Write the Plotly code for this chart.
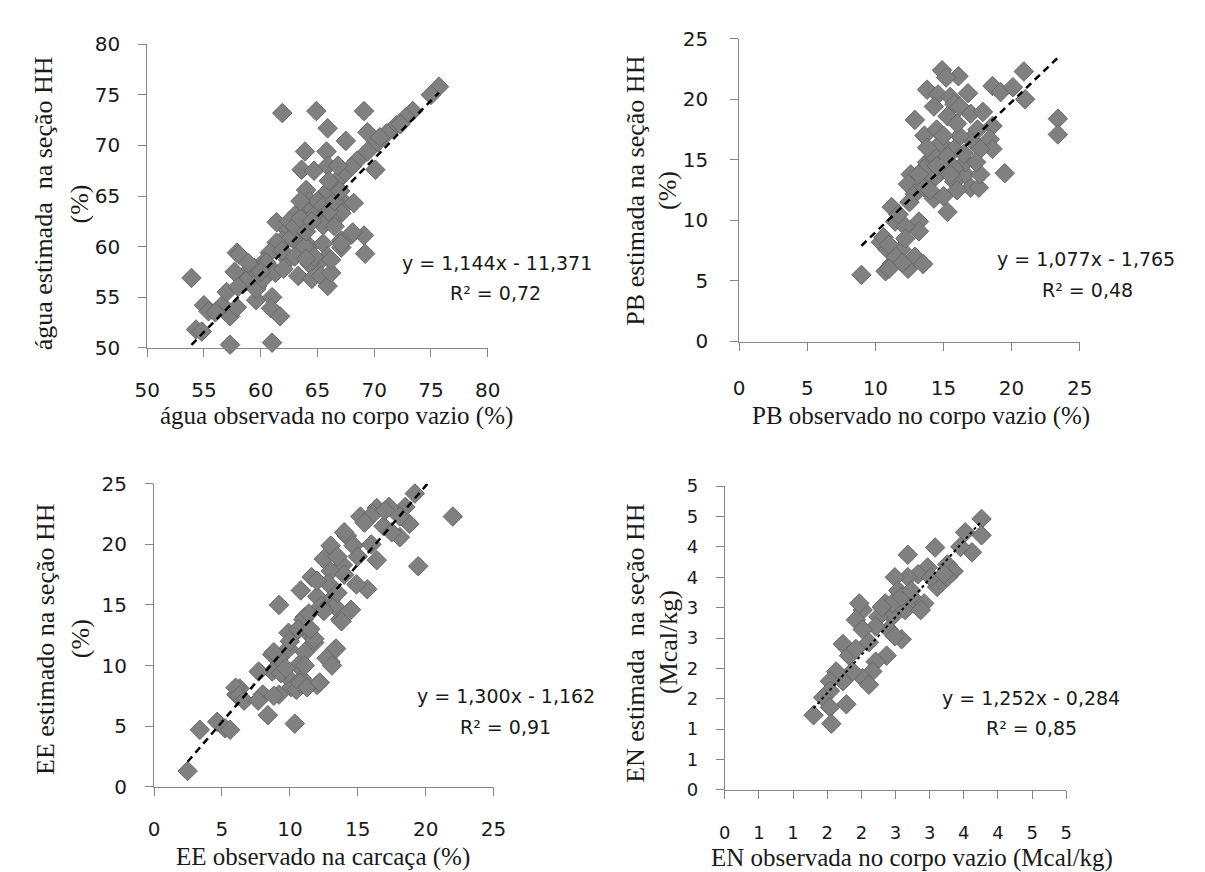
import plotly.graph_objects as go

# ---------------- data ----------------
agua_obs = [61.9, 64.9, 69.1, 65.9, 67.5, 69.4, 63.9, 65.8, 63.6, 64.7, 65.9, 70.1, 75.7, 75.0, 73.4,
            72.8, 71.95, 71.1, 70.3, 69.4, 68.5, 68.0, 67.2, 66.6, 65.9, 64.0, 64.3, 63.8, 63.2, 64.9,
            67.5, 68.2, 67.1, 66.2, 65.5, 61.4, 62.4, 61.9, 63.0, 64.3, 65.5, 67.1, 68.0, 69.1, 69.2,
            67.1, 65.9, 65.0, 64.3, 61.4, 60.8, 60.3, 59.4, 58.6, 57.9, 57.7, 59.7, 53.9,
            55.0, 55.4, 56.6, 57.3, 57.9, 57.3, 54.3, 54.8, 61.0, 59.6, 61.0, 60.9, 61.7, 58.7, 58.1,
            58.9, 59.6, 60.2, 60.5, 61.3, 62.4, 61.9, 63.3, 64.5, 65.3, 65.9, 66.2, 66.2, 64.7, 63.9,
            62.7, 67.1, 68.1, 62.5, 63.0, 63.5, 64.0, 64.5, 65.0, 65.5, 66.0, 66.5, 66.0, 67.0, 66.8,
            70.5, 72.3, 57.0, 56.0, 60.0, 62.0, 63.0, 64.0, 63.5, 66.5, 58.0]
agua_est = [73.2, 73.4, 73.4, 71.7, 70.45, 71.3, 69.4, 69.4, 67.6, 67.5, 68.0, 67.6, 75.8, 75.0, 73.4,
            72.8, 72.0, 71.2, 70.3, 69.4, 68.5, 67.9, 67.0, 66.4, 65.5, 65.6, 64.5, 63.9, 63.3, 63.3,
            64.2, 64.3, 63.3, 62.7, 62.1, 62.4, 61.6, 60.6, 60.6, 60.0, 60.3, 60.6, 61.2, 61.1, 59.3,
            59.9, 59.0, 58.3, 58.3, 60.4, 59.4, 58.5, 57.9, 57.2, 59.4, 57.5, 56.1, 56.9,
            54.2, 53.6, 54.2, 53.1, 54.0, 50.3, 51.8, 51.6, 50.5, 54.7, 55.0, 53.9, 53.1, 56.6, 59.2,
            58.4, 55.8, 56.8, 58.4, 57.4, 58.7, 59.6, 57.1, 56.8, 57.1, 56.1, 57.4, 58.7, 59.0, 60.0,
            60.9, 60.3, 61.4, 62.5, 62.0, 62.8, 61.5, 62.5, 64.5, 64.0, 63.5, 64.5, 66.5, 65.5, 68.0,
            70.8, 72.1, 55.5, 53.5, 57.5, 57.8, 59.0, 58.8, 64.5, 62.0, 56.0]

pb_obs = [8.98, 10.4, 10.75, 11.2, 11.2, 11.45, 11.9, 12.4, 12.9, 13.5, 13.2, 13.2, 12.2, 11.7, 12.6,
          12.4, 12.9, 13.6, 14.3, 15.3, 13.8, 14.8, 15.8, 16.6, 17.0, 17.6, 17.7, 19.5, 13.6, 12.9,
          13.8, 14.9, 16.1, 14.6, 15.5, 15.8, 16.2, 14.3, 15.3, 17.0, 17.9, 18.6, 18.4, 18.6, 17.7,
          17.0, 16.2, 15.8, 14.8, 14.3, 15.3, 16.6, 17.4, 15.8, 14.3, 13.6, 13.2, 18.6, 19.2, 20.1,
          20.9, 21.0, 23.4, 23.4, 12.2, 10.9, 10.6, 11.0, 11.5, 12.0, 11.0, 12.5, 14.0, 15.0, 16.0,
          14.5, 15.0, 16.0, 16.5, 17.5, 13.8, 14.5, 15.5, 16.8, 15.2]
pb_est = [5.5, 8.2, 5.8, 6.4, 11.1, 9.9, 7.6, 6.0, 7.0, 6.4, 9.9, 9.1, 9.5, 10.5, 13.8,
          13.0, 12.2, 12.7, 11.8, 10.7, 14.8, 14.0, 13.2, 13.8, 12.7, 12.7, 13.8, 13.9, 17.0, 18.3,
          20.8, 22.4, 21.9, 20.4, 20.2, 19.6, 19.4, 19.4, 18.6, 18.8, 18.96, 17.8, 16.7, 15.9, 15.9,
          16.7, 16.96, 15.9, 16.4, 15.3, 15.3, 14.8, 14.8, 14.3, 13.5, 14.3, 13.8, 21.1, 20.6, 21.0,
          22.3, 20.0, 18.4, 17.1, 8.5, 7.6, 8.6, 8.0, 7.0, 6.5, 6.0, 11.5, 12.5, 12.0, 12.5,
          17.5, 17.0, 18.0, 15.5, 17.5, 16.0, 14.5, 13.8, 20.5, 21.8]

ee_obs = [19.2, 22.0, 19.45, 18.1, 18.8, 18.5, 17.3, 16.4, 15.2, 16.1, 16.9, 18.1, 16.4, 15.7, 14.9,
          14.2, 13.0, 14.7, 12.5, 13.9, 11.6, 13.0, 10.8, 12.0, 13.0, 13.7, 14.5, 9.2, 11.1, 10.6,
          9.9, 11.6, 11.8, 11.1, 9.9, 9.2, 13.3, 13.0, 10.6, 10.9, 12.0, 10.1, 8.7, 8.7, 7.7,
          9.7, 6.3, 9.2, 8.0, 6.05, 2.47, 3.37, 4.65, 5.22, 5.6, 6.0, 6.25, 6.63, 7.66, 8.38,
          8.82, 8.82, 9.33, 9.7, 10.36, 10.49, 10.75, 11.1, 11.26, 11.0, 11.4, 11.8, 12.2, 12.7, 13.1,
          13.4, 13.8, 13.3, 12.3, 10.6, 15.5, 17.0, 14.0, 13.5, 12.8, 15.0, 16.0, 17.5, 14.0, 12.0,
          13.5, 11.5, 12.5, 10.0]
ee_est = [24.2, 22.3, 18.2, 20.6, 21.7, 23.1, 23.1, 23.0, 22.3, 22.5, 21.5, 22.3, 18.7, 16.3, 16.7,
          20.7, 19.9, 19.9, 18.8, 18.3, 17.3, 17.8, 16.2, 15.7, 15.4, 13.8, 14.6, 15.0, 14.0, 12.95,
          12.7, 12.4, 11.9, 11.1, 11.4, 10.6, 11.3, 10.3, 10.0, 8.9, 8.4, 8.2, 10.9, 9.5, 9.5,
          9.2, 8.1, 7.6, 7.6, 7.6, 1.29, 4.69, 5.35, 4.82, 4.69, 8.17, 7.5, 7.1, 7.1, 5.9,
          7.5, 11.1, 9.37, 9.77, 5.2, 8.0, 8.57, 10.0, 8.2, 13.8, 14.3, 12.2, 8.6, 10.6, 10.0,
          11.4, 13.65, 14.9, 14.9, 13.0, 21.8, 22.8, 21.0, 19.0, 16.8, 19.0, 20.0, 21.0, 17.5, 17.0,
          16.0, 13.0, 14.5, 12.0]

en_obs = [3.76, 3.76, 3.52, 3.62, 3.45, 2.68, 3.08, 3.26, 3.35, 3.26, 3.11, 2.97, 2.83, 2.68, 2.49,
          2.54, 2.78, 2.92, 2.64, 2.45, 2.35, 2.25, 2.40, 2.59, 2.37, 2.21, 2.02, 1.92, 2.02, 2.11,
          1.73, 1.82, 1.92, 2.21, 2.16, 2.02, 2.11, 1.87, 1.73, 1.63, 1.54, 1.78, 1.54, 1.44, 1.54,
          1.30, 1.56, 1.97, 2.45, 2.30, 2.59, 2.73, 3.02, 3.21, 2.87, 2.49]
en_est = [4.46, 4.19, 4.24, 3.91, 4.0, 3.87, 3.99, 3.71, 3.60, 3.50, 3.34, 3.66, 3.55, 3.50, 3.50,
          3.28, 3.12, 3.07, 2.96, 2.85, 3.07, 2.85, 2.64, 2.48, 2.21, 2.69, 2.96, 2.80, 2.64, 2.43,
          2.40, 2.21, 2.32, 2.11, 1.95, 1.84, 1.73, 1.95, 1.79, 1.95, 1.79, 1.41, 1.63, 1.52, 1.36,
          1.23, 1.09, 3.07, 3.07, 3.01, 3.18, 3.28, 3.50, 3.55, 2.96, 2.53]

slopes = [1.144, 1.077, 1.300, 1.252]
intercepts = [-11.371, -1.765, -1.162, -0.284]
eq_texts = ["y = 1,144x - 11,371", "y = 1,077x - 1,765", "y = 1,300x - 1,162", "y = 1,252x - 0,284"]
r2_texts = ["R² = 0,72", "R² = 0,48", "R² = 0,91", "R² = 0,85"]

x_titles = ["água observada no corpo vazio (%)", "PB observado no corpo vazio (%)",
            "EE observado na carcaça (%)", "EN observada no corpo vazio (Mcal/kg)"]
y_titles1 = ["água estimada  na seção HH", "PB estimada na seção HH",
             "EE estimado na seção HH", "EN estimada  na seção HH"]
y_titles2 = ["(%)", "(%)", "(%)", "(Mcal/kg)"]

ticks_pct_agua = [50, 55, 60, 65, 70, 75, 80]
ticks_pct = [0, 5, 10, 15, 20, 25]
ticks_en = [0, 0.5, 1, 1.5, 2, 2.5, 3, 3.5, 4, 4.5, 5]
ticktext_en = ["0", "1", "1", "2", "2", "3", "3", "4", "4", "5", "5"]

# ---------------- layout geometry (pixels) ----------------
W, H = 1205, 872
panels = [
    dict(xs=agua_obs, ys=agua_est, rng=[50, 80], tv=ticks_pct_agua, tt=None,
         px=(129, 477), py=(25, 337), xt=(322, 407), yt1=(23, 189), yt2=(60, 189),
         eq=(486, 250), r2=(485, 281), fs=20, ls="7px,5px", lw=2.5, xstand=16, ystand=14),
    dict(xs=pb_obs, ys=pb_est, rng=[0, 25], tv=ticks_pct, tt=None,
         px=(734, 1082), py=(19.3, 330.6), xt=(920, 407), yt1=(628, 175), yt2=(660, 175),
         eq=(1088, 246), r2=(1090, 278), fs=20, ls="7px,5px", lw=2.5, xstand=20, ystand=18),
    dict(xs=ee_obs, ys=ee_est, rng=[0, 25], tv=ticks_pct, tt=None,
         px=(136, 483), py=(477, 788.3), xt=(309, 861), yt1=(25, 636), yt2=(61, 636),
         eq=(496, 695), r2=(495, 727), fs=20, ls="7px,5px", lw=2.5, xstand=16, ystand=14),
    dict(xs=en_obs, ys=en_est, rng=[0, 5], tv=ticks_en, tt=ticktext_en,
         px=(719.3, 1068.3), py=(479.3, 791.7), xt=(911, 862), yt1=(628, 640), yt2=(662, 640),
         eq=(1032, 697), r2=(1033, 728), fs=18, ls="3px,3px", lw=2, xstand=18, ystand=14),
]

AX = "#868686"
TXT = "#1a1a1a"
SANS = "DejaVu Sans"
SERIF = "Liberation Serif"

fig = go.Figure()
layout = dict(width=W, height=H, margin=dict(l=0, r=0, t=0, b=0), autosize=False,
              paper_bgcolor="white", plot_bgcolor="white", showlegend=False)
annotations = []


def ann(text, pos, font, size, angle=0):
    annotations.append(dict(text=text, x=pos[0] / W, y=1 - pos[1] / H, xref="paper", yref="paper",
                            showarrow=False, xanchor="center", yanchor="middle", textangle=angle,
                            font=dict(family=font, size=size, color=TXT)))


for i, p in enumerate(panels):
    n = "" if i == 0 else str(i + 1)
    xa, ya = "x" + n, "y" + n
    fig.add_trace(go.Scatter(
        x=p["xs"], y=p["ys"], mode="markers", xaxis=xa, yaxis=ya, cliponaxis=False,
        marker=dict(symbol="diamond", size=15, color="#808080",
                    line=dict(color="#686868", width=1)),
        hoverinfo="x+y"))
    x0, x1 = min(p["xs"]), max(p["xs"])
    s, b = slopes[i], intercepts[i]
    fig.add_trace(go.Scatter(
        x=[x0, x1], y=[s * x0 + b, s * x1 + b], mode="lines", xaxis=xa, yaxis=ya,
        line=dict(color="black", width=p["lw"], dash=p["ls"]), hoverinfo="skip"))

    axis_common = dict(range=p["rng"], showgrid=False, zeroline=False, showline=True,
                       linecolor=AX, linewidth=1, ticks="outside", ticklen=8, tickwidth=1,
                       tickcolor=AX, tickfont=dict(family=SANS, size=p["fs"], color=TXT),
                       tickmode="array", tickvals=p["tv"], fixedrange=True)
    if p["tt"] is not None:
        axis_common["ticktext"] = p["tt"]
    layout["xaxis" + n] = dict(axis_common, domain=[p["px"][0] / W, p["px"][1] / W],
                               anchor=ya, ticklabelstandoff=p["xstand"])
    layout["yaxis" + n] = dict(axis_common, domain=[1 - p["py"][1] / H, 1 - p["py"][0] / H],
                               anchor=xa, ticklabelstandoff=p["ystand"])

    ann(x_titles[i], p["xt"], SERIF, 25)
    ann(y_titles1[i], p["yt1"], SERIF, 26, -90)
    ann(y_titles2[i], p["yt2"], SERIF, 26, -90)
    ann(eq_texts[i], p["eq"], SANS, 19)
    ann(r2_texts[i], p["r2"], SANS, 19)

layout["annotations"] = annotations
fig.update_layout(**layout)
fig.write_html("out.html")
